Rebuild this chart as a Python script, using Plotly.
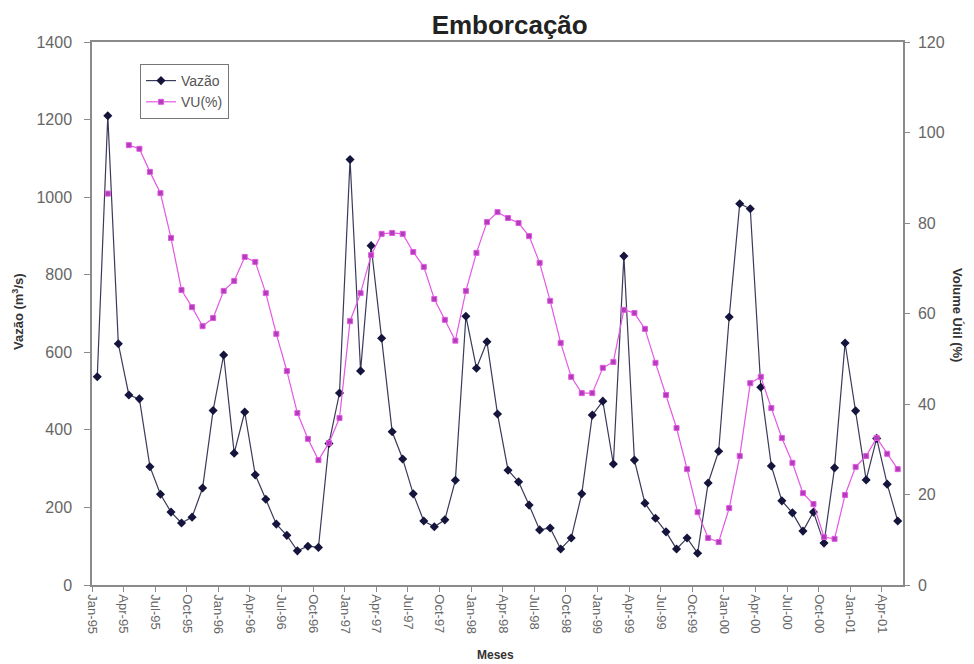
import plotly.graph_objects as go

months = ["Jan-95","Feb-95","Mar-95","Apr-95","May-95","Jun-95","Jul-95","Aug-95","Sep-95","Oct-95","Nov-95","Dec-95",
          "Jan-96","Feb-96","Mar-96","Apr-96","May-96","Jun-96","Jul-96","Aug-96","Sep-96","Oct-96","Nov-96","Dec-96",
          "Jan-97","Feb-97","Mar-97","Apr-97","May-97","Jun-97","Jul-97","Aug-97","Sep-97","Oct-97","Nov-97","Dec-97",
          "Jan-98","Feb-98","Mar-98","Apr-98","May-98","Jun-98","Jul-98","Aug-98","Sep-98","Oct-98","Nov-98","Dec-98",
          "Jan-99","Feb-99","Mar-99","Apr-99","May-99","Jun-99","Jul-99","Aug-99","Sep-99","Oct-99","Nov-99","Dec-99",
          "Jan-00","Feb-00","Mar-00","Apr-00","May-00","Jun-00","Jul-00","Aug-00","Sep-00","Oct-00","Nov-00","Dec-00",
          "Jan-01","Feb-01","Mar-01","Apr-01","May-01"]

vazao = [537, 1210, 622, 490, 480, 305, 234, 188, 160, 175, 250, 450,
         593, 340, 446, 284, 221, 157, 128, 88, 100, 97, 365, 495,
         1097, 552, 875, 636, 395, 325, 235, 165, 150, 168, 270, 693,
         559, 627, 441, 296, 266, 206, 142, 147, 93, 121, 235, 438,
         474, 312, 848, 322, 211, 172, 137, 93, 121, 82, 263, 345,
         691, 983, 970, 510, 307, 217, 186, 139, 188, 108, 302, 624,
         449, 271, 378, 260, 165]

vu = [None, 86.5, None, 97.2, 96.4, 91.3, 86.6, 76.7, 65.2, 61.4, 57.2, 59.0,
      65.0, 67.2, 72.5, 71.4, 64.5, 55.5, 47.3, 38.0, 32.3, 27.6, 31.4, 36.9,
      58.3, 64.5, 72.9, 77.6, 77.8, 77.6, 73.6, 70.3, 63.2, 58.6, 54.0, 65.0,
      73.4, 80.2, 82.4, 81.1, 80.0, 77.1, 71.2, 62.8, 53.5, 46.0, 42.4, 42.4,
      48.0, 49.3, 60.8, 60.1, 56.6, 49.1, 42.0, 34.7, 25.6, 16.1, 10.4, 9.5,
      17.0, 28.5, 44.6, 46.0, 39.1, 32.5, 27.0, 20.3, 17.9, 10.6, 10.2, 19.9,
      26.1, 28.5, 32.5, 29.0, 25.6]

x = list(range(len(months)))
tick_idx = list(range(0, len(months), 3))
tickvals = [i - 0.5 for i in tick_idx]
ticktext = [months[i] for i in tick_idx]

fig = go.Figure()
fig.add_trace(go.Scatter(
    x=x, y=vazao, name="Vazão", mode="lines+markers",
    line=dict(color="#3a3a5a", width=1.2),
    marker=dict(symbol="diamond", size=7, color="#14143c"),
    yaxis="y"))
fig.add_trace(go.Scatter(
    x=x, y=vu, name="VU(%)", mode="lines+markers", connectgaps=False,
    line=dict(color="#e458e4", width=1.2),
    marker=dict(symbol="square", size=5, color="#b03cb8", line=dict(color="#e458e4", width=1)),
    yaxis="y2"))

axis_col = "#8a8a8a"
tick_font = dict(family="Liberation Sans, Arial", size=16, color="#666666")

fig.update_layout(
    width=974, height=664,
    margin=dict(l=92, r=71, t=42, b=79, autoexpand=False),
    paper_bgcolor="white", plot_bgcolor="white",
    title=dict(text="<b>Emborcação</b>", x=0.515, xref="paper", xanchor="center",
               y=1 - 25/664, yref="container", yanchor="middle",
               font=dict(family="Liberation Sans, Arial", size=26, color="#222222")),
    xaxis=dict(range=[-0.5, len(months) - 0.5], tickmode="array", tickvals=tickvals, ticktext=ticktext,
               tickangle=90, ticks="outside", ticklen=5, tickcolor=axis_col, automargin=False,
               showline=True, linecolor=axis_col, linewidth=1.5, mirror=True,
               showgrid=False, zeroline=False, tickfont=dict(family="Liberation Sans, Arial", size=13, color="#666666")),
    yaxis=dict(range=[0, 1400], dtick=200, ticks="outside", ticklen=6, tickcolor=axis_col, automargin=False,
               showline=True, linecolor=axis_col, linewidth=1.5, showgrid=False, zeroline=False,
               tickfont=tick_font, ticklabelstandoff=9),
    yaxis2=dict(range=[0, 120], dtick=20, overlaying="y", side="right", ticks="outside", ticklen=5,
                tickcolor=axis_col, showline=True, linecolor=axis_col, linewidth=1.5, automargin=False,
                showgrid=False, zeroline=False, tickfont=tick_font, ticklabelstandoff=5),
    legend=dict(x=(140 - 92) / 811, y=1 - (64 - 42) / 543, xanchor="left", yanchor="top",
                bgcolor="white", bordercolor="#777777", borderwidth=1,
                font=dict(family="Liberation Sans, Arial", size=14, color="#555555"),
                tracegroupgap=0, itemwidth=30),
    showlegend=True,
    annotations=[
        dict(text="<b>Vazão (m<sup>3</sup>/s)</b>", textangle=-90, xref="paper", yref="paper",
             x=(18 - 92) / 811, y=1 - (312 - 42) / 543, xanchor="center", yanchor="middle", showarrow=False,
             font=dict(family="Liberation Sans, Arial", size=13, color="#333333")),
        dict(text="<b>Volume Útil (%)</b>", textangle=90, xref="paper", yref="paper",
             x=(958 - 92) / 811, y=1 - (315 - 42) / 543, xanchor="center", yanchor="middle", showarrow=False,
             font=dict(family="Liberation Sans, Arial", size=13, color="#333333")),
        dict(text="<b>Meses</b>", xref="paper", yref="paper",
             x=(495 - 92) / 811, y=(585 - 655) / 543, xanchor="center", yanchor="middle", showarrow=False,
             font=dict(family="Liberation Sans, Arial", size=12, color="#333333")),
    ],
)

fig.write_html("out.html", config={"displayModeBar": False},
               post_script="document.body.style.margin='0px';")
